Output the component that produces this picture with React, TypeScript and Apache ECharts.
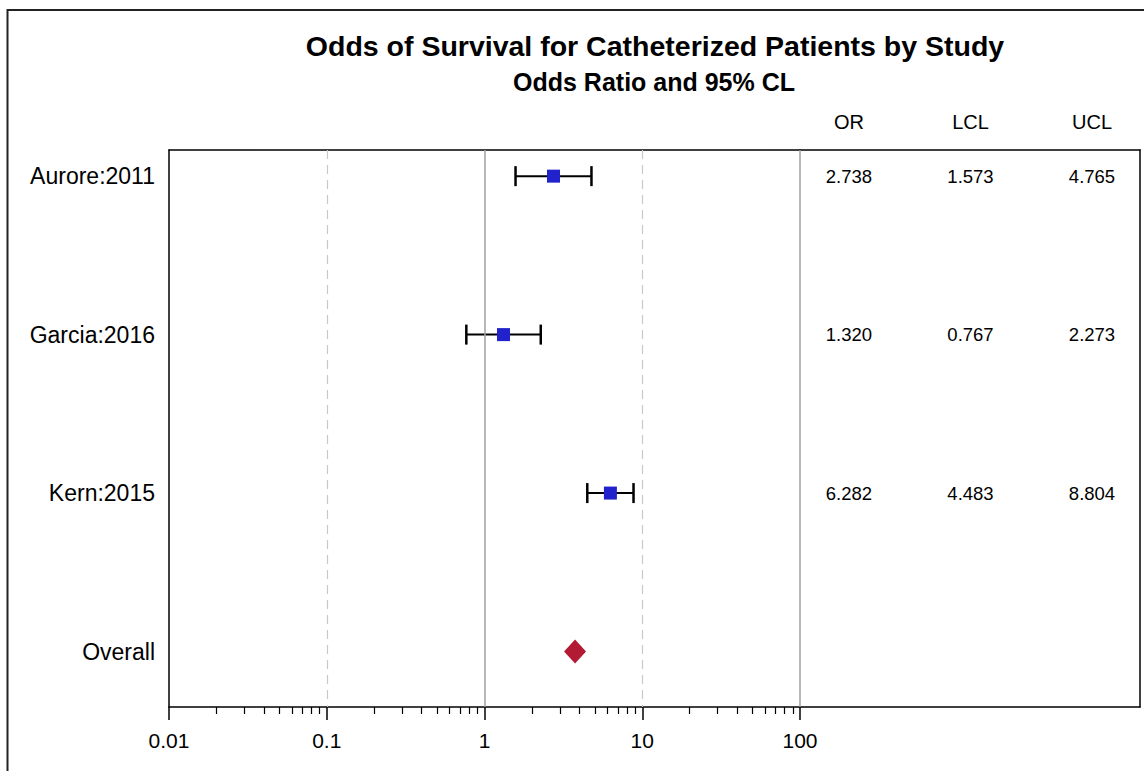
import React, { useEffect, useRef } from "react";
import * as echarts from "echarts";

const TITLE = "Odds of Survival for Catheterized Patients by Study";
const SUBTITLE = "Odds Ratio and 95% CL";
const STUDIES = ["Aurore:2011", "Garcia:2016", "Kern:2015", "Overall"];
const OR = [2.738, 1.32, 6.282];
const LCL = [1.573, 0.767, 4.483];
const UCL = [4.765, 2.273, 8.804];
const OVERALL_OR = 3.75;
const TABLE_HEADERS = ["OR", "LCL", "UCL"];
const TABLE_COLUMNS = [OR, LCL, UCL];
const X_TICKS = [0.01, 0.1, 1, 10, 100];
const X_TICK_LABELS = ["0.01", "0.1", "1", "10", "100"];
const MINOR_MULTIPLIERS = [2, 3, 4, 5, 6, 7, 8, 9];
const DECADES = [0.01, 0.1, 1, 10];
const REF_SOLID = [1, 100];
const REF_DASHED = [0.1, 10];

const FONT = "'Liberation Sans', Arial, sans-serif";

export default function App() {
  const ref = useRef<HTMLDivElement>(null);
  useEffect(() => {
    document.body.style.margin = "0";
    if (!ref.current) return;
    const chart = echarts.init(ref.current, null, { renderer: "svg" });

    const minorTicks: number[] = [];
    DECADES.forEach((d) => MINOR_MULTIPLIERS.forEach((m) => minorTicks.push(+(d * m).toPrecision(3))));

    const yMin = -0.165;
    const yMax = 3.35;
    const grid0 = { left: 169, top: 150, width: 631, height: 557 };
    const grid1 = { left: 800, top: 150, width: 340, height: 557 };
    const black = "#000";
    const frameLine = { onZero: false, show: true, lineStyle: { color: black, width: 1.5 } };

    const tableData: any[] = [];
    TABLE_COLUMNS.forEach((col, c) =>
      col.forEach((v, i) => tableData.push([c, i, v]))
    );

    const option: any = {
      animation: false,
      backgroundColor: "#fff",
      textStyle: { fontFamily: FONT },
      grid: [
        { ...grid0, containLabel: false },
        { ...grid1, containLabel: false },
        { ...grid0, containLabel: false },
      ],
      xAxis: [
        {
          // minor ticks, bottom of plot
          gridIndex: 0,
          type: "log",
          logBase: 10,
          min: 0.01,
          max: 100,
          position: "bottom",
          axisLine: frameLine,
          axisTick: { show: true, customValues: minorTicks, length: 7, inside: false, lineStyle: { color: black, width: 1.2 } },
          axisLabel: { show: false },
          splitLine: { show: false },
        },
        {
          // top border of plot
          gridIndex: 0,
          type: "value",
          min: 0,
          max: 1,
          position: "top",
          axisLine: frameLine,
          axisTick: { show: false },
          axisLabel: { show: false },
          splitLine: { show: false },
        },
        {
          // table headers + top border
          gridIndex: 1,
          type: "value",
          min: -0.403,
          max: 2.395,
          position: "top",
          axisLine: frameLine,
          axisTick: { show: false },
          axisLabel: {
            show: true,
            customValues: [0, 1, 2],
            formatter: (v: number) => TABLE_HEADERS[Math.round(v)],
            fontSize: 20,
            color: black,
            margin: 18,
            fontFamily: FONT,
          },
          splitLine: { show: false },
        },
        {
          // table bottom border
          gridIndex: 1,
          type: "value",
          min: -0.403,
          max: 2.395,
          position: "bottom",
          axisLine: frameLine,
          axisTick: { show: false },
          axisLabel: { show: false },
          splitLine: { show: false },
        },
        {
          // major ticks and labels
          gridIndex: 2,
          type: "log",
          logBase: 10,
          min: 0.01,
          max: 100,
          position: "bottom",
          axisLine: { show: false, onZero: false },
          axisTick: { show: true, customValues: X_TICKS, length: 13, lineStyle: { color: black, width: 1.5 } },
          axisLabel: {
            show: true,
            customValues: X_TICKS,
            formatter: (v: number) => {
              const idx = X_TICKS.findIndex((t) => Math.abs(t - v) / t < 1e-6);
              return idx >= 0 ? X_TICK_LABELS[idx] : "";
            },
            fontSize: 21,
            color: black,
            margin: 23,
            fontFamily: FONT,
          },
          splitLine: { show: false },
        },
      ],
      yAxis: [
        {
          gridIndex: 0,
          type: "value",
          inverse: true,
          min: yMin,
          max: yMax,
          position: "left",
          axisLine: frameLine,
          axisTick: { show: false },
          axisLabel: {
            show: true,
            customValues: [0, 1, 2, 3],
            formatter: (v: number) => STUDIES[Math.round(v)],
            fontSize: 23,
            color: black,
            margin: 14,
            fontFamily: FONT,
          },
          splitLine: { show: false },
        },
        {
          gridIndex: 1,
          type: "value",
          inverse: true,
          min: yMin,
          max: yMax,
          position: "right",
          axisLine: frameLine,
          axisTick: { show: false },
          axisLabel: { show: false },
          splitLine: { show: false },
        },
        {
          gridIndex: 2,
          type: "value",
          inverse: true,
          min: yMin,
          max: yMax,
          show: false,
        },
      ],
      series: [
        {
          // reference lines
          type: "scatter",
          xAxisIndex: 0,
          yAxisIndex: 0,
          data: [],
          z: 1,
          markLine: {
            silent: true,
            symbol: "none",
            label: { show: false },
            data: [
              ...REF_SOLID.map((v) => ({ xAxis: v, lineStyle: { color: "#a0a0a0", width: 1.5, type: "solid" } })),
              ...REF_DASHED.map((v) => ({ xAxis: v, lineStyle: { color: "#c8c8c8", width: 1.2, type: [9, 6] } })),
            ],
          },
        },
        {
          // error bars
          type: "custom",
          xAxisIndex: 0,
          yAxisIndex: 0,
          z: 3,
          data: LCL.map((l, i) => [l, UCL[i], i]),
          encode: { x: [0, 1], y: 2 },
          renderItem: (params: any, api: any) => {
            const lo = api.coord([api.value(0), api.value(2)]);
            const hi = api.coord([api.value(1), api.value(2)]);
            const h = 10;
            const style = { stroke: "#000", lineWidth: 2 };
            return {
              type: "group",
              children: [
                { type: "line", shape: { x1: lo[0], y1: lo[1], x2: hi[0], y2: hi[1] }, style },
                { type: "line", shape: { x1: lo[0], y1: lo[1] - h, x2: lo[0], y2: lo[1] + h }, style: { ...style, lineWidth: 2.5 } },
                { type: "line", shape: { x1: hi[0], y1: hi[1] - h, x2: hi[0], y2: hi[1] + h }, style: { ...style, lineWidth: 2.5 } },
              ],
            };
          },
        },
        {
          type: "scatter",
          xAxisIndex: 0,
          yAxisIndex: 0,
          z: 4,
          symbol: "rect",
          symbolSize: 13,
          itemStyle: { color: "#2222CC", opacity: 1 },
          data: OR.map((v, i) => [v, i]),
        },
        {
          type: "scatter",
          xAxisIndex: 0,
          yAxisIndex: 0,
          z: 4,
          symbol: "diamond",
          symbolSize: [22, 24],
          itemStyle: { color: "#B31B34", opacity: 1 },
          data: [[OVERALL_OR, 3]],
        },
        {
          // table values
          type: "scatter",
          xAxisIndex: 2,
          yAxisIndex: 1,
          symbol: "circle",
          symbolSize: 1,
          itemStyle: { color: "rgba(0,0,0,0)", opacity: 1 },
          label: {
            show: true,
            position: "inside",
            formatter: (p: any) => (p.data[2] as number).toFixed(3),
            fontSize: 18.5,
            color: black,
            opacity: 1,
            fontFamily: FONT,
          },
          data: tableData,
        },
      ],
      graphic: [
        {
          type: "rect",
          silent: true,
          shape: { x: 7.5, y: 10, width: 2000, height: 2000 },
          style: { fill: "none", stroke: "#222", lineWidth: 2 },
        },
        {
          type: "text",
          x: 655,
          y: 46,
          style: { text: TITLE, font: `bold 28.5px ${FONT}`, fill: black, textAlign: "center", textVerticalAlign: "middle" },
        },
        {
          type: "text",
          x: 654,
          y: 82,
          style: { text: SUBTITLE, font: `bold 25px ${FONT}`, fill: black, textAlign: "center", textVerticalAlign: "middle" },
        },
      ],
    };
    chart.setOption(option);
    return () => chart.dispose();
  }, []);
  return <div ref={ref} style={{ width: 1144, height: 771, overflow: "hidden" }} />;
}
